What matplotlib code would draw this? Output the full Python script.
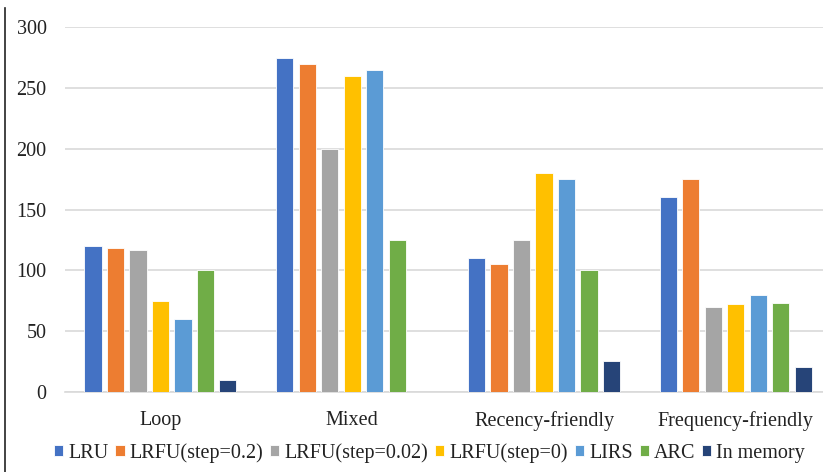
import matplotlib.pyplot as plt
import numpy as np
from matplotlib.lines import Line2D

categories = ["Loop", "Mixed", "Recency-friendly", "Frequency-friendly"]
series = ["LRU", "LRFU(step=0.2)", "LRFU(step=0.02)", "LRFU(step=0)", "LIRS", "ARC", "In memory"]
lru = [120, 275, 110, 160]
lrfu_02 = [118, 270, 105, 175]
lrfu_002 = [117, 200, 125, 70]
lrfu_0 = [75, 260, 180, 72]
lirs = [60, 265, 175, 80]
arc = [100, 125, 100, 73]
in_memory = [10, 0, 25, 20]
yticks = [0, 50, 100, 150, 200, 250, 300]

colors = ["#4472C4", "#ED7D31", "#A5A5A5", "#FFC000", "#5B9BD5", "#70AD47", "#264478"]

plt.rcParams['font.family'] = ['Liberation Serif', 'DejaVu Serif']

fig = plt.figure(figsize=(8.23, 4.72), dpi=100)
# the plot area runs a little past the right edge of the picture
ax = fig.add_axes([0.0785, 0.170, 0.932, 0.772])

x = np.arange(len(categories))
slot = 0.1173
width = 0.089
values = [lru, lrfu_02, lrfu_002, lrfu_0, lirs, arc, in_memory]
for i, (name, vals) in enumerate(zip(series, values)):
    offs = (i - 3) * slot
    ax.bar(x + offs, vals, width, color=colors[i], label=name,
           edgecolor='white', linewidth=0.6, zorder=3)

ax.set_xlim(-0.5, 3.5)
ax.set_ylim(0, 300)
ax.set_yticks(yticks)
ax.set_xticks(x)
ax.set_xticklabels(categories)
ax.grid(axis='y', color='#D9D9D9', linewidth=1.2, zorder=0)
for s in ['top', 'right', 'left']:
    ax.spines[s].set_visible(False)
ax.spines['bottom'].set_color('#D9D9D9')
ax.spines['bottom'].set_linewidth(1.2)
ax.tick_params(axis='both', length=0, labelsize=14.5, colors='#222222')
ax.tick_params(axis='x', pad=14)
ax.tick_params(axis='y', pad=13)

fig.legend(loc='center', bbox_to_anchor=(0.522, 0.04), ncol=7, frameon=False,
           fontsize=14.5, handlelength=0.45, handleheight=0.45, handletextpad=0.25,
           columnspacing=0.35, labelcolor='#222222')

fig.add_artist(Line2D([0.0065, 0.0065], [0.0, 0.983], transform=fig.transFigure,
                      color='#222222', linewidth=1.2))

fig.savefig("out.png", dpi=100)
